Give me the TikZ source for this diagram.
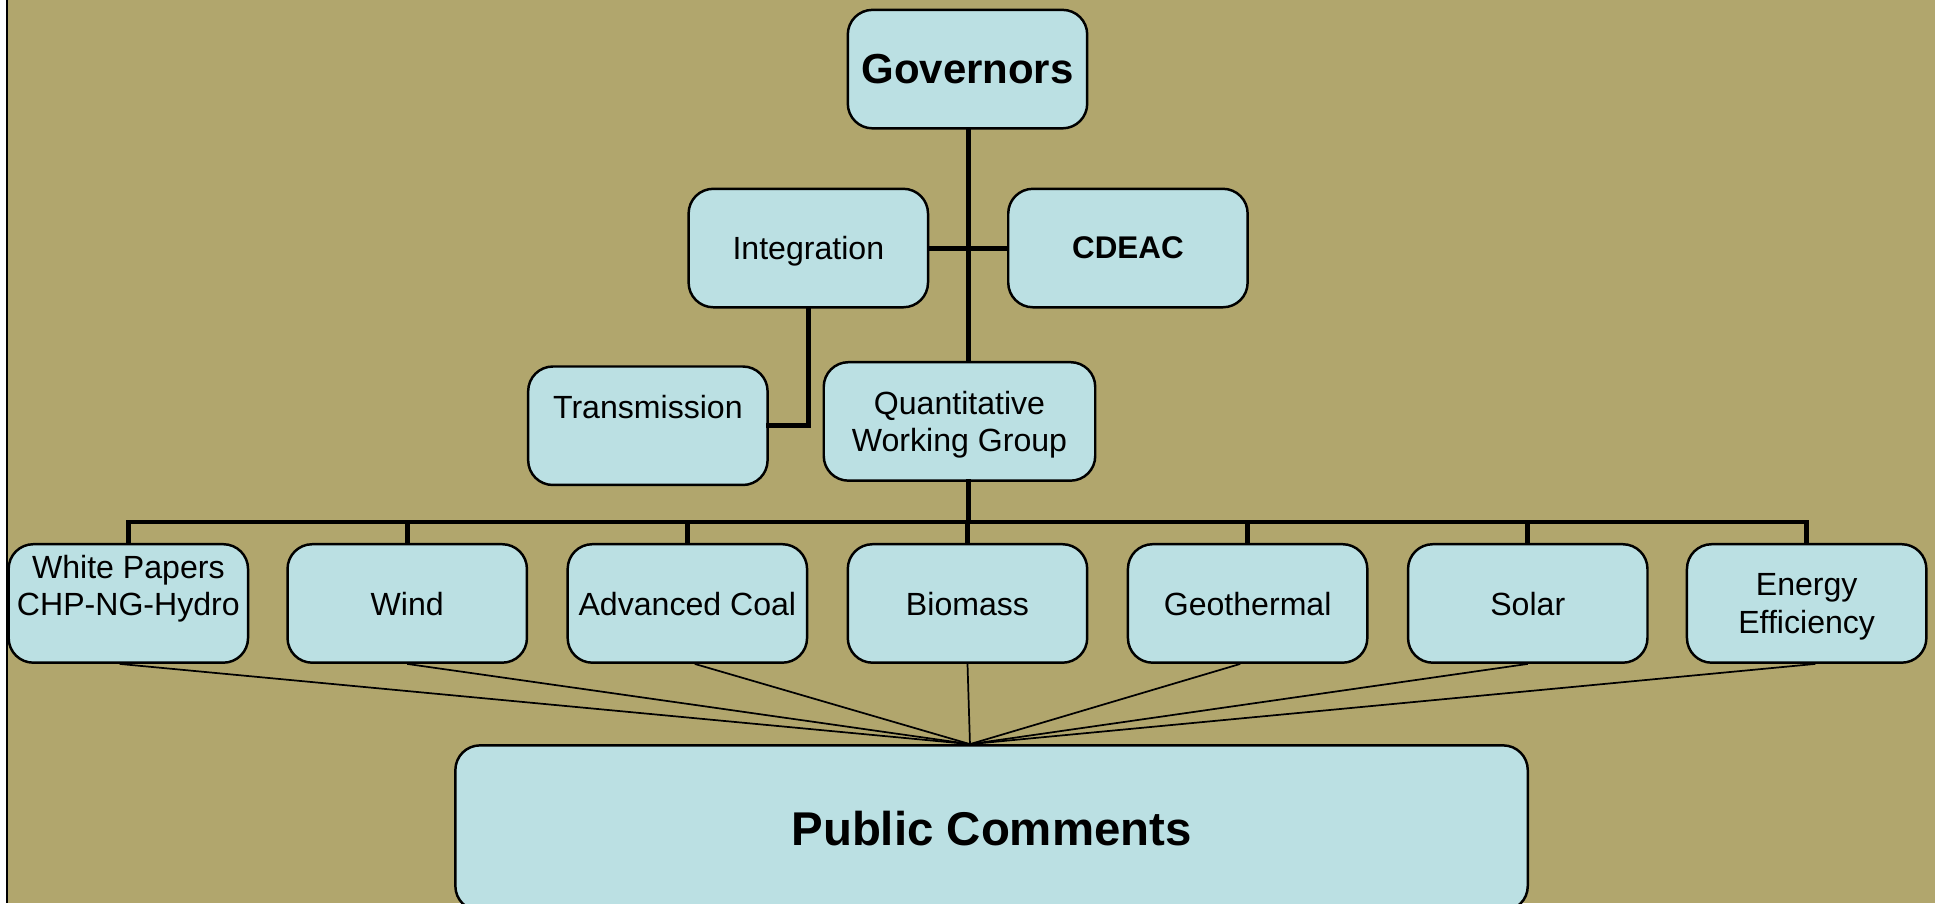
\documentclass[tikz,border=0pt]{standalone}
\usepackage{fontspec}
\setmainfont{Liberation Sans}
\usetikzlibrary{positioning}

\definecolor{panelbg}{RGB}{177,166,109}
\definecolor{boxfill}{RGB}{187,224,227}

\tikzset{
  unitbox/.style={draw=black, line width=1pt, fill=boxfill, rounded corners=10pt,
    minimum width=97pt, minimum height=48pt, inner sep=0pt, align=center,
    text depth=0pt, font=\fontsize{13}{15}\selectfont},
  trunk/.style={line width=2pt, line cap=rect},
  feed/.style={line width=0.7pt}
}

\begin{document}
\begin{tikzpicture}[x=0.5pt,y=0.5pt,yscale=-1]
\useasboundingbox (0,0) rectangle (1568,732);

%Background
\fill[panelbg] (0,0) rectangle (1568,732);
\fill[white] (0,0) rectangle (5,732);
\draw[line width=0.8pt] (6,0) -- (6,732);

%Top levels
\node[unitbox, font=\fontsize{17}{20}\selectfont\bfseries] (gov) at (784,56) {Governors};
\node[unitbox] (integ) at (655,201) {Integration};
\node[unitbox, font=\fontsize{12.7}{15}\selectfont\bfseries] (cdeac) at (914,201) {CDEAC};
\node[unitbox] (trans) at (525,345) {Transmission\\~};
\node[unitbox, minimum width=110pt] (qwg) at (777.5,341.5) {Quantitative\\Working Group};

%Working groups
\node[unitbox] (wp) at (104,489) {White Papers\\CHP-NG-Hydro\\~};
\node[unitbox] (wind) at (330,489) {Wind};
\node[unitbox] (coal) at (557,489) {Advanced Coal};
\node[unitbox] (bio) at (784,489) {Biomass};
\node[unitbox] (geo) at (1011,489) {Geothermal};
\node[unitbox] (solar) at (1238,489) {Solar};
\node[unitbox] (ee) at (1464,489) {Energy\\Efficiency};

%Public comments
\node[unitbox, minimum width=434.5pt, minimum height=67pt,
  font=\fontsize{19.2}{22}\selectfont\bfseries] (pub) at (803.5,671) {Public Comments};

%Thick connectors
\coordinate (bus) at (784.5,423);
\draw[trunk] (gov.south -| bus) -- (qwg.north -| bus);
\draw[trunk] (integ.east) -- (cdeac.west);
\draw[trunk] (integ.south) |- (trans.east);
\draw[trunk] (qwg.south -| bus) -- (bus);
\draw[trunk] (wp.north |- bus) -- (ee.north |- bus);
\foreach \n in {wp,wind,coal,bio,geo,solar,ee}
  \draw[trunk] (\n.north) -- (\n.north |- bus);

%Thin feeds to public comments
\coordinate (hub) at (786,603);
\foreach \n/\dx in {wp/-7,wind/0,coal/6,bio/0,geo/-6,solar/0,ee/7}
  \draw[feed] ([xshift=\dx*0.5pt]\n.south) -- (hub);

\end{tikzpicture}
\end{document}
